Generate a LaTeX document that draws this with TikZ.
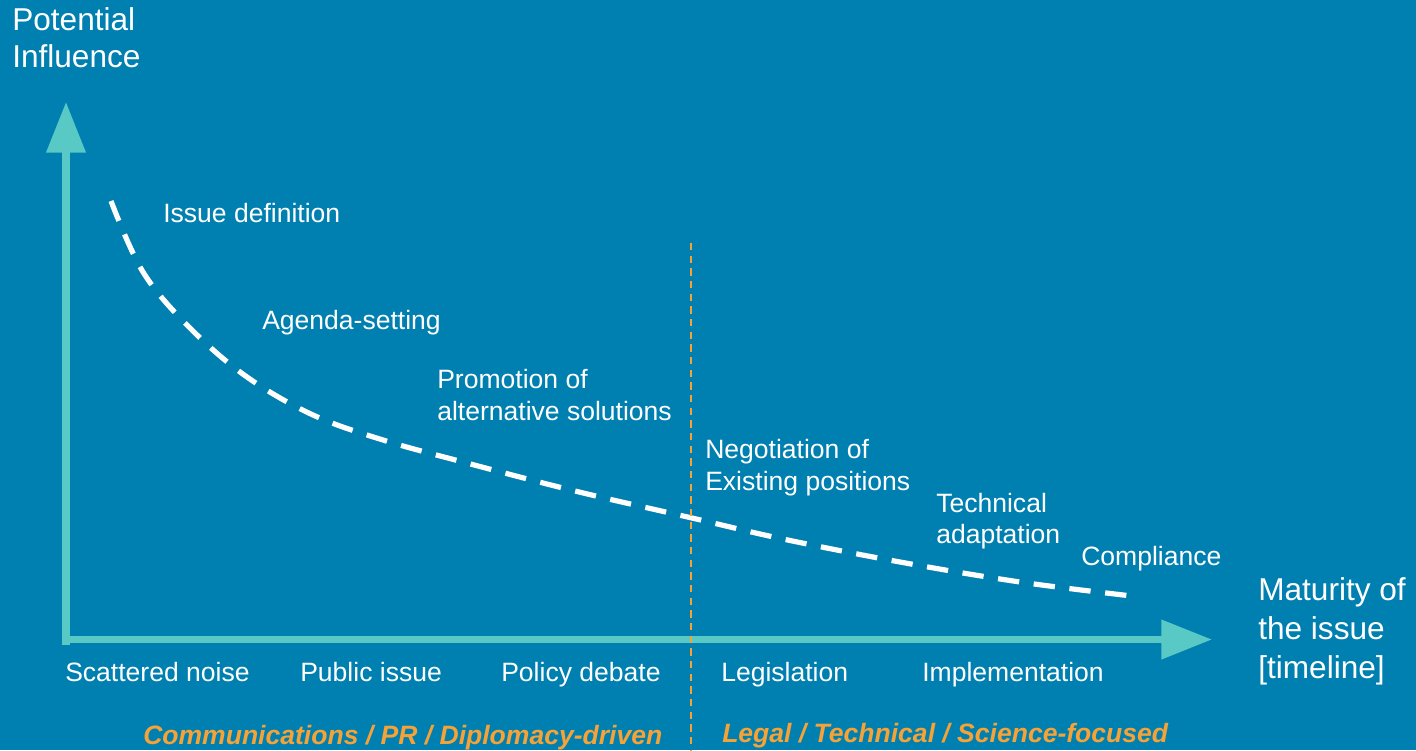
\documentclass[tikz,border=0pt]{standalone}
\usepackage{fontspec}
\setmainfont{Liberation Sans}
\usetikzlibrary{arrows.meta}
\definecolor{bgblue}{HTML}{0080B1}
\definecolor{axiscol}{HTML}{58C9C5}
\definecolor{accent}{HTML}{F6A236}
\tikzset{
  axisline/.style={draw=axiscol, line width=5.5pt, line cap=rect,
    -{Triangle[length=38pt,width=28.5pt]}},
  curveline/.style={draw=white, line width=3.9pt, dash pattern=on 16pt off 11pt},
  splitline/.style={draw=accent, line width=1.4pt, dash pattern=on 5.5pt off 4pt},
  lbl/.style={anchor=base west, inner sep=0pt, text=white, font=\fontsize{19.9}{23.5}\selectfont},
  big/.style={anchor=base west, inner sep=0pt, text=white, font=\fontsize{23.7}{29}\selectfont},
  cat/.style={anchor=base west, inner sep=0pt, text=accent, font=\fontsize{19.9}{23.5}\selectfont\bfseries\itshape},
}
\begin{document}
\begin{tikzpicture}[x=0.75pt, y=-0.75pt]
\fill[bgblue] (0,0) rectangle (1416,750);
\useasboundingbox (0,0) rectangle (1416,750);

% axes
\coordinate (origin) at (66,639.5);
\coordinate (ytop) at (66,102);
\coordinate (xend) at (1212,639.5);
\draw[axisline] ([yshift=-1.5pt]origin) -- (ytop);
\draw[axisline] (origin) -- (xend);

% axis titles
\node[big] (ytitle1) at (12,30) {Potential};
\node[big] (ytitle2) at (12,67) {Influence};
\node[big] (xtitle1) at (1258,600) {Maturity of};
\node[big] (xtitle2) at (1258,639) {the issue};
\node[big] (xtitle3) at (1258,678) {[timeline]};

% influence curve
\draw[curveline] plot[smooth, tension=0.6] coordinates {
  (111,201) (143,272) (190,328) (247,377) (313,415) (383,440) (463,462)
  (575,491) (692,518) (783,539) (900,562) (1020,582) (1132,596)};

% split line
\draw[splitline] (691,243) -- (691,750);

% stage labels
\node[lbl] (s1) at (163,222) {Issue definition};
\node[lbl] (s2) at (262,329) {Agenda-setting};
\node[lbl] (s3a) at (437,388) {Promotion of};
\node[lbl] (s3b) at (437,420) {alternative solutions};
\node[lbl] (s4a) at (705,458) {Negotiation of};
\node[lbl] (s4b) at (705,490) {Existing positions};
\node[lbl] (s5a) at (936,512) {Technical};
\node[lbl] (s5b) at (936,543) {adaptation};
\node[lbl] (s6) at (1081,565) {Compliance};

% timeline labels
\node[lbl] (t1) at (65,681) {Scattered noise};
\node[lbl] (t2) at (300,681) {Public issue};
\node[lbl] (t3) at (501,681) {Policy debate};
\node[lbl] (t4) at (721,681) {Legislation};
\node[lbl] (t5) at (922,681) {Implementation};

% categories
\node[cat] (c1) at (143,744) {Communications / PR / Diplomacy-driven};
\node[cat] (c2) at (722,742) {Legal / Technical / Science-focused};
\end{tikzpicture}
\end{document}
